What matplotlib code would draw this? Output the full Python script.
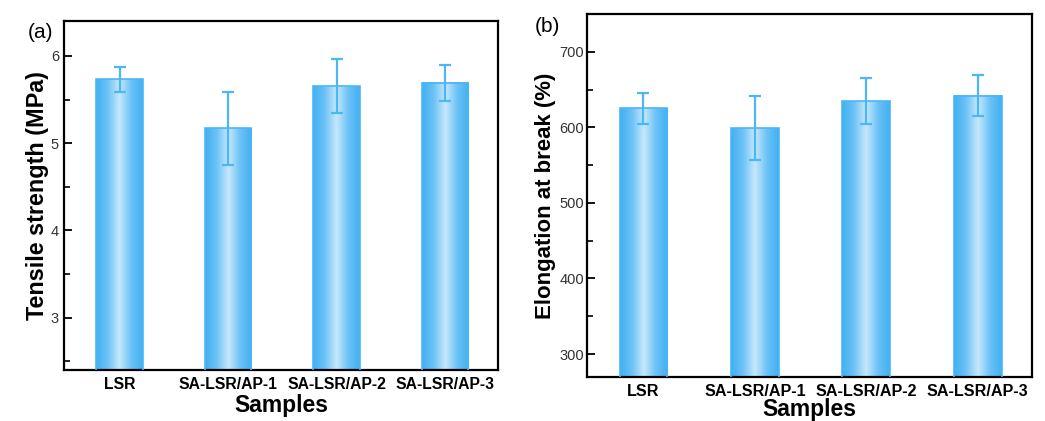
import numpy as np
import matplotlib
matplotlib.use("Agg")
import matplotlib.pyplot as plt
from matplotlib.colors import LinearSegmentedColormap
from matplotlib.ticker import MultipleLocator

plt.rcParams['font.family'] = ['Liberation Sans', 'DejaVu Sans']

samples = ["LSR", "SA-LSR/AP-1", "SA-LSR/AP-2", "SA-LSR/AP-3"]
tensile = [5.73, 5.17, 5.65, 5.69]
tensile_err = [0.14, 0.42, 0.31, 0.21]
elong = [625, 599, 635, 642]
elong_err = [21, 42, 30, 27]

edge_c = "#4db6f4"
cmap = LinearSegmentedColormap.from_list(
    "barg", ["#40b0f2", "#6cc2f6", "#c6e8fc", "#6cc2f6", "#40b0f2"])

fig = plt.figure(figsize=(10.45, 4.21), dpi=100)
fig.patch.set_facecolor("white")

ax1 = fig.add_axes([0.0617, 0.1211, 0.4149, 0.8290])
ax2 = fig.add_axes([0.5614, 0.1052, 0.4264, 0.8615])

def draw(ax, vals, errs, ylim, major, minor, ylabel, ylfs, tickfs, ytpad, ylpad):
    x = np.arange(len(vals))
    width = 0.43
    grad = np.linspace(0, 1, 256).reshape(1, -1)
    bars = ax.bar(x, vals, width=width, color="none", edgecolor=edge_c,
                  linewidth=1.2, zorder=3)
    for b in bars:
        x0, w = b.get_x(), b.get_width()
        ax.imshow(grad, cmap=cmap, aspect="auto",
                  extent=(x0, x0 + w, ylim[0], b.get_height()),
                  zorder=2, interpolation="bicubic")
    ax.errorbar(x, vals, yerr=errs, fmt="none", ecolor=edge_c,
                elinewidth=1.6, capsize=4.5, capthick=1.6, zorder=4)
    ax.set_xlim(-0.51, 3.49)
    ax.set_ylim(*ylim)
    ax.yaxis.set_major_locator(MultipleLocator(major))
    ax.yaxis.set_minor_locator(MultipleLocator(minor))
    ax.set_xticks(x)
    ax.set_xticklabels(samples, fontsize=tickfs, fontweight="bold")
    ax.tick_params(axis="x", direction="in", length=6, width=1.3, pad=5)
    ax.tick_params(axis="y", which="major", direction="in", length=6,
                   width=1.3, labelsize=10.5, labelcolor="#333333", pad=ytpad)
    ax.tick_params(axis="y", which="minor", direction="in", length=4, width=1.2)
    ax.set_ylabel(ylabel, fontsize=ylfs, fontweight="bold", labelpad=ylpad)
    for s in ax.spines.values():
        s.set_linewidth(1.6)
    ax.set_facecolor("white")

draw(ax1, tensile, tensile_err, (2.4, 6.4), 1, 0.5,
     "Tensile strength (MPa)", 16.8, 11.3, 4, 1)
draw(ax2, elong, elong_err, (270, 750), 100, 50,
     "Elongation at break (%)", 16, 11.6, 2, 2)

ax1.set_xlabel("Samples", fontsize=16.5, fontweight="bold", labelpad=1.5)
ax2.set_xlabel("Samples", fontsize=16.5, fontweight="bold", labelpad=-0.5)

fig.text(28 / 1045, 1 - 33 / 421, "(a)", fontsize=15, va="center", ha="left")
fig.text(535 / 1045, 1 - 26 / 421, "(b)", fontsize=15, va="center", ha="left")

fig.savefig("out.png", dpi=100)
